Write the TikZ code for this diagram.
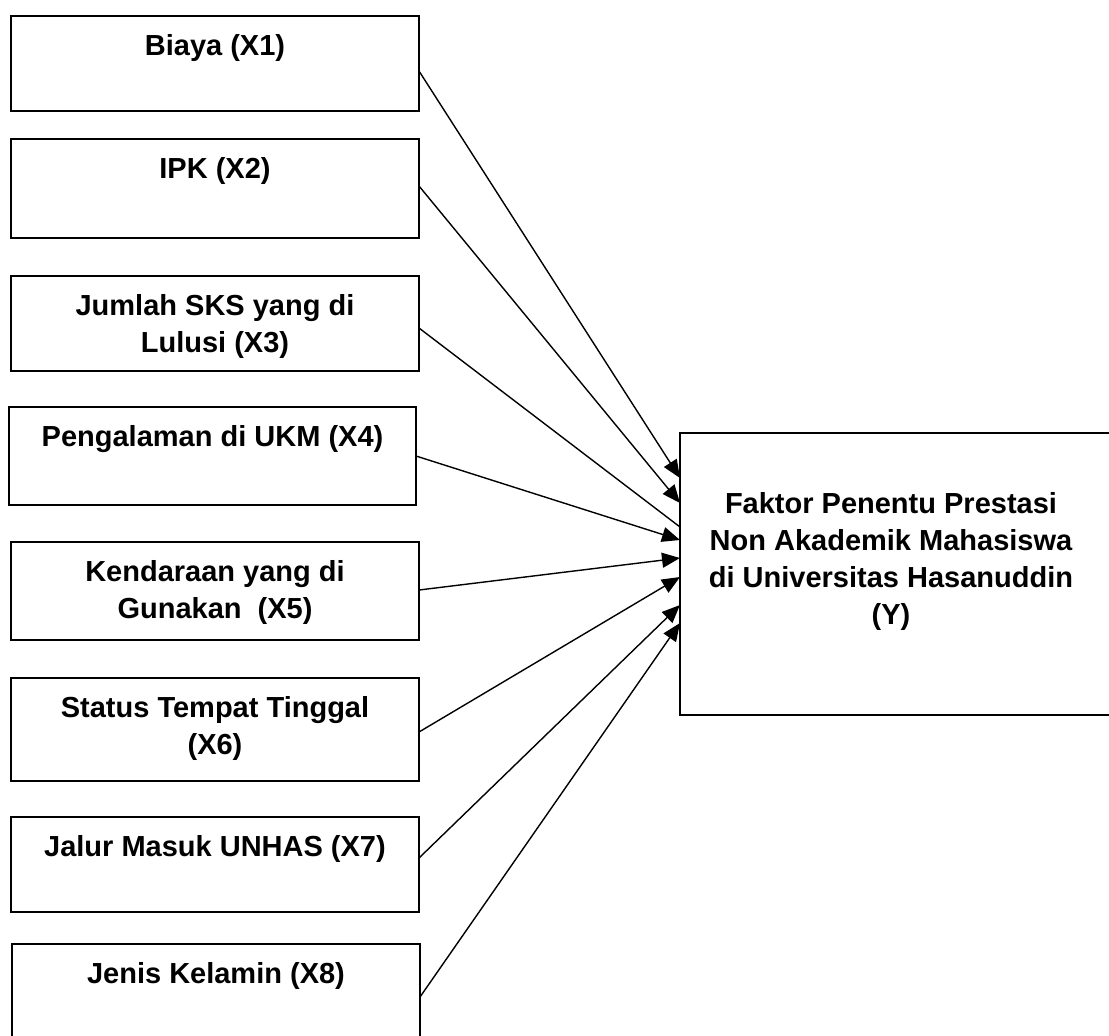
\documentclass[tikz,border=0pt]{standalone}
\usepackage{fontspec}
\setmainfont{Liberation Sans}
\usetikzlibrary{calc,positioning,arrows.meta}

\begin{document}
\begin{tikzpicture}[x=0.5pt,y=-0.5pt,
  varbox/.style={draw,line width=0.9pt,inner sep=0pt,outer sep=0pt,minimum width=204pt},
  vartext/.style={font=\fontsize{14.5pt}{18.5pt}\selectfont\bfseries,align=center,inner sep=0pt,anchor=north},
  conn/.style={line width=0.7pt,-{Triangle[length=9pt,width=7.5pt]}}]
\useasboundingbox (0,0) rectangle (1109,1035);

\node[varbox,minimum height=47.5pt] (x1) at (215,63.5) {};
\node[vartext,below=9pt of x1.north] (t1) {Biaya (X1)};

\node[varbox,minimum height=49.5pt] (x2) at (215,188.5) {};
\node[vartext,below=9pt of x2.north] (t2) {IPK (X2)};

\node[varbox,minimum height=47.5pt] (x3) at (215,323.5) {};
\node[vartext,below=9pt of x3.north] (t3) {Jumlah SKS yang di\\Lulusi (X3)};

\node[varbox,minimum width=203.5pt,minimum height=49pt] (x4) at (212.5,456) {};
\node[vartext,below=9pt of x4.north] (t4) {Pengalaman di UKM (X4)};

\node[varbox,minimum height=49pt] (x5) at (215,591) {};
\node[vartext,below=9pt of x5.north] (t5) {Kendaraan yang di\\Gunakan\ \ (X5)};

\node[varbox,minimum height=51.5pt] (x6) at (215,729.5) {};
\node[vartext,below=9pt of x6.north] (t6) {Status Tempat Tinggal\\(X6)};

\node[varbox,minimum height=47.5pt] (x7) at (215,864.5) {};
\node[vartext,below=9pt of x7.north] (t7) {Jalur Masuk UNHAS (X7)};

\node[varbox,minimum height=48pt] (x8) at (216,992) {};
\node[vartext,below=9pt of x8.north] (t8) {Jenis Kelamin (X8)};

\node[varbox,minimum width=217pt,minimum height=141pt] (fy) at (897,574) {};
\node[vartext,anchor=center] (ty) at (891,561) {Faktor Penentu Prestasi\\Non Akademik Mahasiswa\\di Universitas Hasanuddin\\(Y)};

\draw[conn] ($(x1.east)+(0,7.5)$) -- ($(fy.north west)+(0,45)$);
\draw[conn] ($(x2.east)+(0,-2.5)$) -- ($(fy.north west)+(0,70)$);
\draw[line width=0.7pt] ($(x3.east)+(0,4.5)$) -- ($(fy.north west)+(0,94)$);
\draw[conn] (x4.east) -- ($(fy.north west)+(0,107)$);
\draw[conn] ($(x5.east)+(0,-1)$) -- ($(fy.north west)+(0,125)$);
\draw[conn] ($(x6.east)+(0,2.5)$) -- ($(fy.north west)+(0,144)$);
\draw[conn] ($(x7.east)+(0,-6.5)$) -- ($(fy.north west)+(0,172)$);
\draw[conn] ($(x8.east)+(0,5)$) -- ($(fy.north west)+(0,190)$);
\end{tikzpicture}
\end{document}
